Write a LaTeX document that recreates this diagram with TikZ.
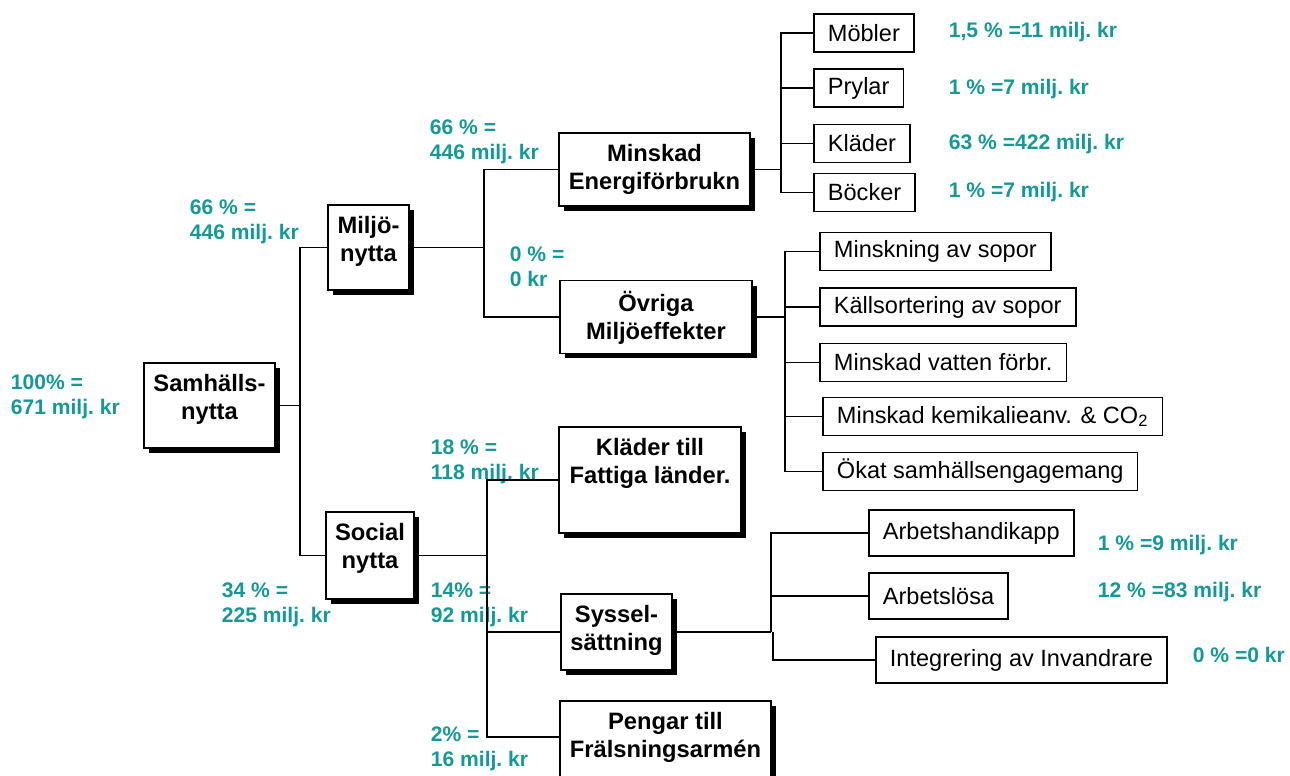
\documentclass[tikz,border=0pt]{standalone}
\usepackage{fontspec}
\setmainfont{Liberation Sans}
\usetikzlibrary{shadows}
\definecolor{pctgreen}{RGB}{20,152,152}

\begin{document}
\begin{tikzpicture}[x=0.02cm, y=-0.02cm, line width=1pt,
  bigbox/.style = {draw, fill=white, inner sep=0pt,
    drop shadow={opacity=1, fill=black, shadow xshift=0.1cm, shadow yshift=-0.1cm}},
  boxtext/.style = {anchor=north, align=center, inner sep=6.3pt,
    font=\fontsize{13.5}{16}\selectfont\bfseries},
  leaf/.style = {draw, anchor=west, inner xsep=8pt, inner ysep=0pt,
    minimum height=0.76cm, font=\fontsize{13.4}{16}\selectfont},
  pct/.style = {anchor=west, align=left, inner sep=0pt, text=pctgreen,
    font=\fontsize{12}{14.2}\selectfont\bfseries\frenchspacing}]
\useasboundingbox (0,0) rectangle (1290,776);

\node[bigbox, minimum width=2.62cm, minimum height=1.7cm, label={[boxtext]north:Samhälls-\\nytta}] (samh) at (209.5,405.5) {};
\node[bigbox, minimum width=1.62cm, minimum height=1.7cm, label={[boxtext]north:Miljö-\\nytta}] (miljo) at (368.5,247.5) {};
\node[bigbox, minimum width=1.76cm, minimum height=1.74cm, label={[boxtext]north:Social\\nytta}] (social) at (370,555.5) {};
\node[bigbox, minimum width=3.82cm, minimum height=1.46cm, label={[boxtext]north:Minskad\\Energiförbrukn}] (energi) at (654.5,169.5) {};
\node[bigbox, minimum width=3.84cm, minimum height=1.46cm, label={[boxtext]north:Övriga\\Miljöeffekter}] (ovriga) at (656,317) {};
\node[bigbox, minimum width=3.64cm, minimum height=2.12cm, label={[boxtext]north:Kläder till\\Fattiga länder.}] (fattiga) at (650,480) {};
\node[bigbox, minimum width=2.22cm, minimum height=1.52cm, label={[boxtext]north:Syssel-\\sättning}] (syssel) at (616.5,632) {};
\node[bigbox, minimum width=4.22cm, minimum height=1.6cm, label={[boxtext]north:Pengar till\\Frälsningsarmén}] (pengar) at (665.5,741) {};

\node[leaf] (mob) at (813,33) {Möbler};
\node[leaf] (pry) at (813,88) {Prylar};
\node[leaf] (kla) at (813,143.5) {Kläder};
\node[leaf] (boc) at (813,192.5) {Böcker};

\node[leaf] (sop) at (819,251.5) {Minskning av sopor};
\node[leaf] (kall) at (819,307) {Källsortering av sopor};
\node[leaf] (vat) at (819,362.5) {Minskad vatten förbr.};
\node[leaf] (kem) at (822,416.5) {Minskad kemikalieanv. \& CO\textsubscript{2}};
\node[leaf] (oka) at (822,471.5) {Ökat samhällsengagemang};

\node[leaf, minimum height=0.92cm] (arbh) at (868,533) {Arbetshandikapp};
\node[leaf, minimum height=0.92cm] (arbl) at (868,596) {Arbetslösa};
\node[leaf, minimum height=0.92cm] (integ) at (875,660) {Integrering av Invandrare};

\node[pct] (psamh) at (10,397) {100\% =\\671 milj. kr};
\node[pct] (pmiljo) at (189,221.5) {66 \% =\\446 milj. kr};
\node[pct] (psocial) at (221,604.5) {34 \% =\\225 milj. kr};
\node[pct] (penergi) at (429,141.5) {66 \% =\\446 milj. kr};
\node[pct] (povriga) at (509,266.5) {0 \% =\\0 kr};
\node[pct] (pfattiga) at (430,461.5) {18 \% =\\118 milj. kr};
\node[pct] (psyssel) at (430,605) {14\% =\\92 milj. kr};
\node[pct] (ppengar) at (430,748.5) {2\% =\\16 milj. kr};

\node[pct] (pmob) at (948,32) {1,5 \% =11 milj. kr};
\node[pct] (ppry) at (948,89) {1 \% =7 milj. kr};
\node[pct] (pkla) at (948,144) {63 \% =422 milj. kr};
\node[pct] (pboc) at (948,192) {1 \% =7 milj. kr};
\node[pct] (parbh) at (1097,545) {1 \% =9 milj. kr};
\node[pct] (parbl) at (1097,592) {12 \% =83 milj. kr};
\node[pct] (pinteg) at (1192,655) {0 \% =0 kr};

\coordinate (rj) at (300,0);
\coordinate (mj) at (484,0);
\coordinate (sj) at (487,0);
\coordinate (ej) at (781,0);
\coordinate (oj) at (785,0);
\coordinate (aj) at (771,0);
\coordinate (ij) at (773,0);
\coordinate (pj) at ([yshift=2.3pt]pengar.west);

\draw (samh.east) -- (rj |- samh.east);
\draw (miljo.west) -- (rj |- miljo.west) -- (rj |- social.west) -- (social.west);

\draw (miljo.east) -- (mj |- miljo.east);
\draw (energi.west) -- (mj |- energi.west) -- (mj |- ovriga.west) -- (ovriga.west);

\draw (social.east) -- (sj |- social.east);
\draw (fattiga.west) -- (sj |- fattiga.west) -- (sj |- pj) -- (pj);
\draw (syssel.west) -- (sj |- syssel.west);

\draw (energi.east) -- (ej |- energi.east);
\draw (mob.west) -- (ej |- mob.west) -- (ej |- boc.west) -- (boc.west);
\foreach \n in {pry,kla}
  \draw (\n.west) -- (ej |- \n.west);

\draw (ovriga.east) -- (oj |- ovriga.east);
\draw (sop.west) -- (oj |- sop.west) -- (oj |- oka.west) -- (oka.west);
\foreach \n in {kall,vat,kem}
  \draw (\n.west) -- (oj |- \n.west);

\draw (syssel.east) -- (aj |- syssel.east);
\draw (arbh.west) -- (aj |- arbh.west) -- (aj |- syssel.east);
\draw (arbl.west) -- (aj |- arbl.west);
\draw (ij |- syssel.east) -- (ij |- integ.west) -- (integ.west);
\end{tikzpicture}
\end{document}
